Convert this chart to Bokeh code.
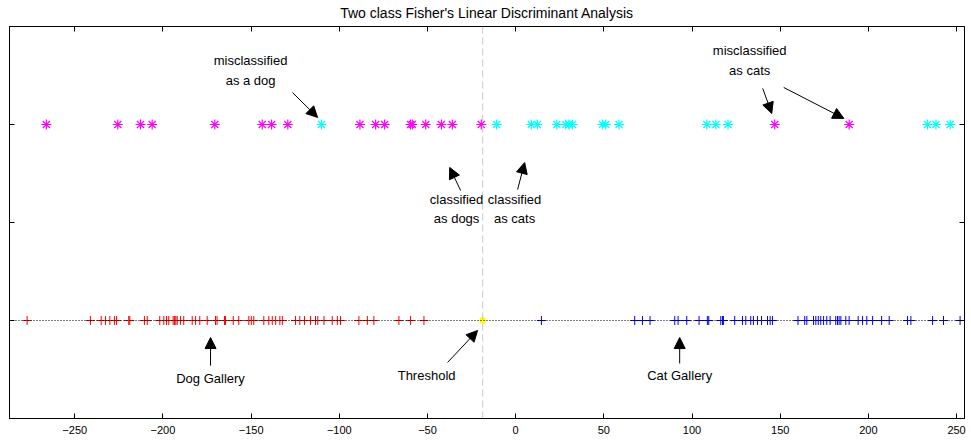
from bokeh.plotting import figure
from bokeh.models import Range1d, LinearAxis, Span, Arrow, NormalHead, Label, FixedTicker
from bokeh.embed import file_html
from bokeh.resources import INLINE

# ---- data (projected values on the Fisher discriminant) ----
dog_gallery = [-277.0, -241.1, -235.0, -232.6, -230.1, -227.5, -226.3, -219.4, -218.8,
               -210.5, -208.9, -201.8, -199.5, -198.0, -196.7, -194.2, -193.4, -192.7,
               -191.9, -190.0, -188.2, -183.4, -181.5, -179.1, -174.9, -170.2, -169.3,
               -165.1, -164.5, -160.1, -157.0, -151.3, -149.9, -148.5, -142.8, -140.0,
               -138.0, -136.1, -133.7, -132.3, -124.8, -122.4, -119.7, -116.3, -113.5,
               -112.2, -108.7, -104.0, -101.1, -99.3, -88.9, -84.1, -80.4, -66.2, -59.6,
               -52.0]
cat_gallery = [14.6, 67.5, 71.9, 76.2, 90.2, 92.1, 97.0, 104.0, 108.7, 109.5, 116.3, 117.3,
               117.8, 124.2, 128.6, 130.5, 133.3, 134.8, 137.1, 139.4, 142.8, 144.3, 145.6,
               160.1, 163.9, 165.1, 168.9, 170.2, 171.6, 173.0, 174.6, 176.4, 178.3, 181.5,
               182.5, 183.4, 184.4, 187.2, 189.1, 194.2, 196.7, 199.1, 202.4, 207.5, 211.8,
               222.2, 224.1, 236.4, 242.6, 252.0]
dog_test = [-266.1, -225.6, -212.7, -206.1, -170.6, -143.7, -138.4, -129.2, -88.3, -79.4,
            -74.3, -59.6, -58.6, -51.0, -42.1, -35.9, -19.5, 146.9, 189.1]
cat_test = [-110.1, -10.8, 8.9, 12.3, 23.3, 28.4, 30.2, 32.2, 49.2, 51.1, 58.6, 108.4,
            113.5, 120.4, 233.5, 238.3, 246.4]
threshold = -18.7
gallery_level = 0.0
test_level = 1.0
x_ticks = [-250, -200, -150, -100, -50, 0, 50, 100, 150, 200, 250]
y_ticks = [0, 0.5, 1]

FONT = "Liberation Sans"

p = figure(width=966, height=442, output_backend="svg", toolbar_location=None,
           x_range=Range1d(-287, 254.5), y_range=Range1d(-0.5, 1.5),
           title="Two class Fisher's Linear Discriminant Analysis",
           min_border_left=9, min_border_right=2, min_border_top=26, min_border_bottom=24)
p.title.align = "center"
p.title.vertical_align = "top"
p.title.text_font = FONT
p.title.text_font_size = "14px"
p.title.text_font_style = "normal"
p.title.text_color = "black"
p.title.standoff = 8
p.xgrid.visible = False
p.ygrid.visible = False
p.outline_line_color = "black"
p.outline_line_alpha = 1.0
p.background_fill_color = "white"
p.border_fill_color = "white"

# axes
p.xaxis.ticker = FixedTicker(ticks=x_ticks)
p.xaxis.major_tick_in = 5
p.xaxis.major_tick_out = 0
p.xaxis.minor_tick_line_color = None
p.xaxis.major_label_text_font = FONT
p.xaxis.major_label_text_font_size = "11px"
p.xaxis.major_label_text_color = "black"
p.xaxis.major_label_standoff = 7
p.xaxis.axis_line_color = "black"
p.yaxis.ticker = FixedTicker(ticks=y_ticks)
p.yaxis.major_tick_in = 5
p.yaxis.major_tick_out = 0
p.yaxis.minor_tick_line_color = None
p.yaxis.major_label_text_font_size = "1px"
p.yaxis.major_label_text_color = None
p.yaxis.major_label_standoff = 0
p.yaxis.axis_line_color = "black"

top_ax = LinearAxis(ticker=FixedTicker(ticks=x_ticks), major_tick_in=5, major_tick_out=0,
                    minor_tick_line_color=None, major_label_text_font_size="1px",
                    major_label_text_color=None, major_label_standoff=0)
right_ax = LinearAxis(ticker=FixedTicker(ticks=y_ticks), major_tick_in=5, major_tick_out=0,
                      minor_tick_line_color=None, major_label_text_font_size="1px",
                      major_label_text_color=None, major_label_standoff=0)
p.add_layout(top_ax, "above")
p.add_layout(right_ax, "right")

# reference lines
p.add_layout(Span(location=threshold, dimension="height", line_color="#c8c8c8",
                  line_dash="7 4", line_width=1))
p.add_layout(Span(location=gallery_level, dimension="width", line_color="black",
                  line_dash="1 2", line_width=1))

# gallery
p.scatter(x=dog_gallery, y=[gallery_level] * len(dog_gallery), marker="cross", size=9,
          line_color="#ff0000", line_width=1)
p.scatter(x=cat_gallery, y=[gallery_level] * len(cat_gallery), marker="cross", size=9,
          line_color="#0000ff", line_width=1)
p.scatter(x=[threshold], y=[gallery_level], marker="asterisk", size=7,
          line_color="#ffff00", line_width=2)

# test points
p.scatter(x=dog_test, y=[test_level] * len(dog_test), marker="asterisk", size=10,
          line_color="#ff00ff", line_width=1.2)
p.scatter(x=cat_test, y=[test_level] * len(cat_test), marker="asterisk", size=10,
          line_color="#00ffff", line_width=1.2)

# annotations
def label(x, y, txt):
    p.add_layout(Label(x=x, y=y, text=txt, text_font=FONT, text_font_size="13px",
                       text_align="center", text_baseline="middle", text_color="black"))

def arrow(x0, y0, x1, y1):
    p.add_layout(Arrow(x_start=x0, y_start=y0, x_end=x1, y_end=y1, line_color="black",
                       line_width=1,
                       end=NormalHead(size=11, fill_color="black", line_color="black")))

label(-150.3, 1.327, "misclassified")
label(-150.3, 1.224, "as a dog")
arrow(-126.5, 1.163, -112.3, 1.036)

label(132.7, 1.378, "misclassified")
label(132.7, 1.276, "as cats")
arrow(140.1, 1.184, 145.2, 1.056)
arrow(152.0, 1.189, 186.1, 1.031)

label(-33.5, 0.617, "classified")
label(-33.5, 0.520, "as dogs")
arrow(-31.2, 0.663, -37.4, 0.781)

label(-0.6, 0.617, "classified")
label(-0.6, 0.520, "as cats")
arrow(1.1, 0.668, 5.1, 0.806)

label(-173.0, -0.296, "Dog Gallery")
arrow(-173.0, -0.230, -173.0, -0.087)

label(-50.5, -0.281, "Threshold")
arrow(-38.6, -0.214, -21.6, -0.051)

label(93.0, -0.281, "Cat Gallery")
arrow(93.0, -0.219, 93.0, -0.087)

open("out.html", "w").write(file_html(p, INLINE))
